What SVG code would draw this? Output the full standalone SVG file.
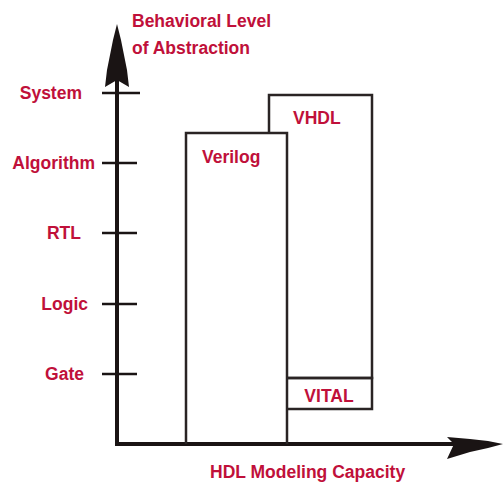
<svg xmlns="http://www.w3.org/2000/svg" width="504" height="485" viewBox="0 0 504 485">
<style>
.lbl{font-family:"Liberation Sans",Arial,sans-serif;font-weight:bold;font-size:17.5px;fill:#c0103a}
.ax{stroke:#1a1414;stroke-width:4;fill:none}
.tk{stroke:#1a1414;stroke-width:2.5}
.bx{stroke:#2a2424;stroke-width:2.5;fill:none}
.hd{fill:#1a1414}
</style>
<rect width="504" height="485" fill="#ffffff"/>
<g id="connectors">
<path class="ax" d="M117,70 L117,444 L460,444"/>
<path class="hd" d="M117,24 L121,40 L124,55 L127,70 L129,87 L117,80 L105,87 L107,70 L110,55 L113,40 Z"/>
<path class="hd" d="M503,444 L488,448 L470,452 L447,459 L454,444 L447,437 L470,439 L488,441 Z"/>
<line class="tk" x1="102" y1="93" x2="140" y2="93"/>
<line class="tk" x1="102" y1="163" x2="137" y2="163"/>
<line class="tk" x1="102" y1="233" x2="137" y2="233"/>
<line class="tk" x1="102" y1="304" x2="137" y2="304"/>
<line class="tk" x1="102" y1="374" x2="137" y2="374"/>
</g>
<g id="axis-title-y"><text class="lbl" x="132" y="27">Behavioral Level</text><text class="lbl" x="132" y="54">of Abstraction</text></g>
<g id="axis-title-x"><text class="lbl" x="210" y="478" font-size="19">HDL Modeling Capacity</text></g>
<g id="lvl-system"><text class="lbl" x="82" y="99" text-anchor="end">System</text></g>
<g id="lvl-algorithm"><text class="lbl" x="95" y="169" text-anchor="end">Algorithm</text></g>
<g id="lvl-rtl"><text class="lbl" x="81" y="239" text-anchor="end">RTL</text></g>
<g id="lvl-logic"><text class="lbl" x="88" y="310" text-anchor="end">Logic</text></g>
<g id="lvl-gate"><text class="lbl" x="84" y="380" text-anchor="end">Gate</text></g>
<g id="verilog"><path class="bx" d="M186,444 L186,133 L287,133 L287,444"/><text class="lbl" x="202" y="163">Verilog</text></g>
<g id="vhdl"><path class="bx" d="M269,133 L269,95 L372,95 L372,378 L287,378"/><text class="lbl" x="293" y="124">VHDL</text></g>
<g id="vital"><path class="bx" d="M287,378 L372,378 L372,409 L287,409"/><text class="lbl" x="329" y="402" text-anchor="middle">VITAL</text></g>
</svg>
